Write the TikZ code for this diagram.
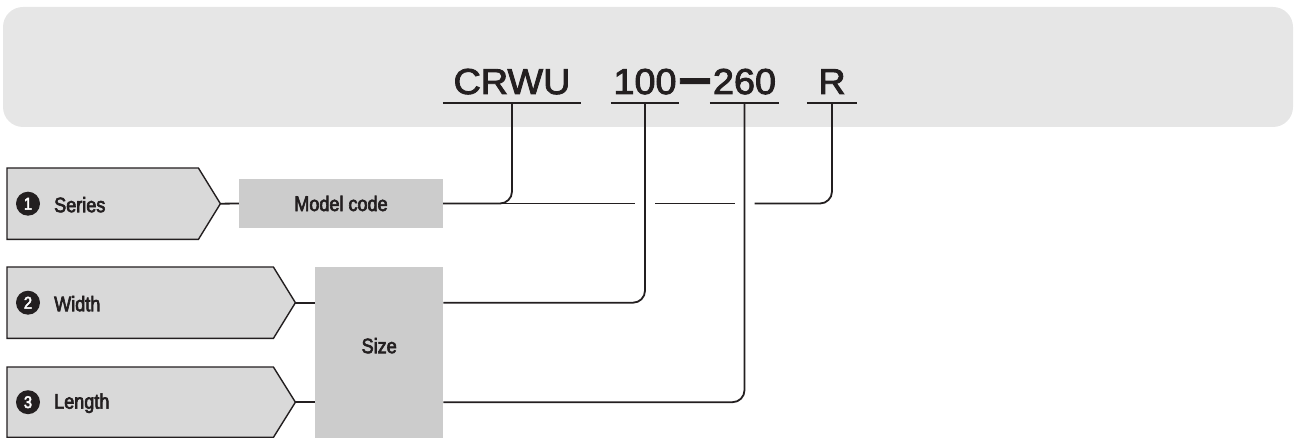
\documentclass[tikz,border=0pt]{standalone}
\usepackage{fontspec}
\setmainfont{Liberation Sans}
\newfontfamily\condfont{Liberation Sans}[FakeStretch=0.86,FakeBold=3]
\newfontfamily\codefont{Liberation Sans}[FakeStretch=1.05,FakeBold=2.5]
\usetikzlibrary{calc}
\definecolor{panelgray}{HTML}{E6E6E6}
\definecolor{pentgray}{HTML}{D9D9D9}
\definecolor{boxgray}{HTML}{CCCCCC}
\definecolor{ink}{HTML}{231F20}
\begin{document}
\begin{tikzpicture}[x=1pt,y=-1pt,
  codetext/.style={font=\codefont\fontsize{36}{40}\selectfont, text=ink, inner xsep=0pt, inner ysep=0pt, text depth=9pt, anchor=base},
  uline/.style={draw=ink, line width=2pt},
  conn/.style={draw=ink, line width=1.8pt},
  pentline/.style={draw=ink, fill=pentgray, line width=1.4pt, line join=miter},
  pentbody/.style={inner sep=0pt, anchor=north west},
  graybox/.style={fill=boxgray, inner sep=0pt, font=\condfont\fontsize{21}{24}\selectfont, text=ink},
  num/.style={circle, fill=ink, inner sep=0pt, minimum size=24pt, text=white, font=\condfont\fontsize{17}{18}\selectfont},
  lbl/.style={anchor=west, inner sep=0pt, text=ink, font=\condfont\fontsize{21}{24}\selectfont}
]
\useasboundingbox (0,0) rectangle (1295,438);
% top panel
\fill[panelgray, rounded corners=20pt] (3,7) rectangle (1293,127);

% code text
\node[codetext, minimum width=138pt] (crwu) at (512,94) {CRWU};
\node[codetext, minimum width=68pt] (w100) at (645,94) {100};
\node[codetext] (dash) at (695,94) {\raisebox{-3.5pt}{\scalebox{0.78}[1.8]{—}}};
\node[codetext, minimum width=69pt] (w260) at (744.5,94) {260};
\node[codetext, minimum width=50pt] (r) at (832,94) {R};
\foreach \n in {crwu,w100,w260,r}
  \draw[uline] (\n.south west) -- (\n.south east);

% pentagons
\node[pentbody, minimum width=191pt, minimum height=71pt] (p1) at (7,168) {};
\draw[pentline] (p1.north west) -- (p1.north east) -- ($(p1.east)+(22,0)$) coordinate (p1tip) -- (p1.south east) -- (p1.south west) -- cycle;
\node[pentbody, minimum width=266pt, minimum height=71pt] (p2) at (7,267) {};
\draw[pentline] (p2.north west) -- (p2.north east) -- ($(p2.east)+(22,0)$) coordinate (p2tip) -- (p2.south east) -- (p2.south west) -- cycle;
\node[pentbody, minimum width=266pt, minimum height=70pt] (p3) at (7,367) {};
\draw[pentline] (p3.north west) -- (p3.north east) -- ($(p3.east)+(22,0)$) coordinate (p3tip) -- (p3.south east) -- (p3.south west) -- cycle;

\node[num] (n1) at ($(p1.west)+(21,0)$) {1};
\node[lbl] (t1) at ($(p1.west)+(47,1)$) {Series};
\node[num] (n2) at ($(p2.west)+(21,0)$) {2};
\node[lbl] (t2) at ($(p2.west)+(47,1)$) {Width};
\node[num] (n3) at ($(p3.west)+(21,0)$) {3};
\node[lbl] (t3) at ($(p3.west)+(47,1)$) {Length};

% boxes
\node[graybox, minimum width=204pt, minimum height=49pt] (model) at (341,203.5) {Model code};
\node[graybox, anchor=north west, minimum width=128pt, minimum height=171pt] (size) at (315,267) {};
\node[lbl, anchor=center] (sizelbl) at ($(size.center)+(0,-7)$) {Size};

% connectors
\draw[conn] (p1tip) -- (model.west);
\draw[conn] (p2tip) -- (p2tip -| size.west);
\draw[conn] (p3tip) -- (p3tip -| size.west);
\draw[conn, rounded corners=12pt] (crwu.south) |- (model.east);
\draw[conn] (model.east) -- ($(w100.south |- model.east)+(-10,0)$);
\draw[conn] ($(w100.south |- model.east)+(10,0)$) -- ($(w260.south |- model.east)+(-10,0)$);
\draw[conn, rounded corners=12pt] ($(w260.south |- model.east)+(10,0)$) -| (r.south);
\draw[conn, rounded corners=12pt] (p2tip -| size.east) -| (w100.south);
\draw[conn, rounded corners=12pt] (p3tip -| size.east) -| (w260.south);
\end{tikzpicture}
\end{document}
